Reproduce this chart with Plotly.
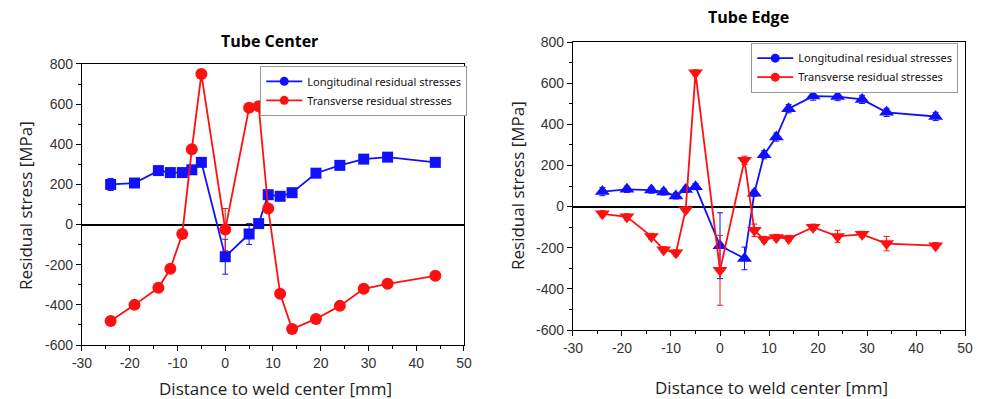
import plotly.graph_objects as go

# ---------------- data ----------------
x_pos = [-24, -19, -14, -11.5, -9, -7, -5, 0, 5, 7, 9, 11.5, 14, 19, 24, 29, 34, 44]

center_long = [200, 207, 269, 259, 259, 273, 310, -160, -47, 5, 149, 141, 159, 256, 295, 326, 336, 310]
center_long_err = [30, 15, 20, 20, 20, 15, 15, 87, 52, 15, 20, 12, 12, 12, 12, 12, 15, 12]
center_trans = [-480, -400, -315, -220, -47, 375, 750, -25, 582, 590, 80, -345, -520, -470, -405, -320, -295, -255]
center_trans_err = [10, 10, 10, 10, 10, 10, 10, 105, 10, 10, 10, 10, 10, 10, 10, 10, 10, 10]

edge_long = [73, 84, 80, 71, 52, 83, 97, -190, -252, 65, 252, 338, 476, 537, 535, 521, 458, 438]
edge_long_err = [20, 15, 15, 15, 15, 15, 15, 160, 55, 15, 20, 20, 20, 20, 20, 20, 20, 20]
edge_trans = [-35, -50, -145, -210, -225, -15, 650, -310, 225, -115, -160, -150, -155, -100, -145, -135, -180, -190]
edge_trans_err = [15, 15, 15, 15, 15, 15, 15, 170, 20, 30, 15, 15, 15, 15, 30, 15, 35, 15]

x_tickvals = [-30, -20, -10, 0, 10, 20, 30, 40, 50]
x_ticktext = ["-30", "-20", "-10", "0", "10", "20", "30", "40", "50"]
y_tickvals = [-600, -400, -200, 0, 200, 400, 600, 800]
y_ticktext = ["-600", "-400", "-200", "0", "200", "400", "600", "800"]

titles = ["Tube Center", "Tube Edge"]
series_names = ["Longitudinal residual stresses", "Transverse residual stresses"]
x_title = "Distance to weld center [mm]"
y_title = "Residual stress [MPa]"

BLUE = "#1010ff"
RED = "#ff1010"

fig = go.Figure()

def add_series(x, y, err, color, symbol, size, xa, ya):
    fig.add_trace(go.Scatter(
        x=x, y=y, mode="lines+markers", xaxis=xa, yaxis=ya, showlegend=False,
        line=dict(color=color, width=1.8),
        marker=dict(symbol=symbol, size=size, color=color),
        error_y=dict(type="data", array=err, visible=True, color=color, thickness=1, width=3),
    ))

add_series(x_pos, center_long, center_long_err, BLUE, "square", 11, "x", "y")
add_series(x_pos, center_trans, center_trans_err, RED, "circle", 12, "x", "y")
add_series(x_pos, edge_long, edge_long_err, BLUE, "triangle-up", 13, "x2", "y2")
add_series(x_pos, edge_trans, edge_trans_err, RED, "triangle-down", 13, "x2", "y2")

# legend entries (Origin-style circle symbols)
for lg, xa, ya in [("legend", "x", "y"), ("legend2", "x2", "y2")]:
    for name, color in zip(series_names, [BLUE, RED]):
        fig.add_trace(go.Scatter(
            x=[None], y=[None], mode="lines+markers", name=name, legend=lg,
            xaxis=xa, yaxis=ya,
            line=dict(color=color, width=1.8),
            marker=dict(symbol="circle", size=9, color=color),
        ))

tick_font = dict(family="Liberation Sans, Arial", size=14, color="#333")

def xaxis_cfg(domain, anchor):
    return dict(
        domain=domain, anchor=anchor, range=[-30, 50], automargin=False,
        tickmode="array", tickvals=x_tickvals, ticktext=x_ticktext,
        showline=True, linecolor="black", linewidth=1.3, mirror=True,
        ticks="outside", ticklen=5, tickcolor="black", tickwidth=1,
        minor=dict(dtick=5, tick0=-30, ticks="outside", ticklen=3, tickcolor="black"),
        showgrid=False, zeroline=False, tickfont=tick_font,
    )

def yaxis_cfg(domain, anchor):
    return dict(
        domain=domain, anchor=anchor, range=[-600, 800], automargin=False,
        tickmode="array", tickvals=y_tickvals, ticktext=y_ticktext,
        showline=True, linecolor="black", linewidth=1.3, mirror=True,
        ticks="outside", ticklen=5, tickcolor="black", tickwidth=1,
        minor=dict(dtick=100, tick0=-600, ticks="outside", ticklen=3, tickcolor="black"),
        showgrid=False, zeroline=True, zerolinecolor="black", zerolinewidth=1.5,
        tickfont=tick_font,
    )

legend_common = dict(
    bgcolor="white", bordercolor="#999", borderwidth=1,
    font=dict(family="Noto Sans", size=11, color="#111"),
    itemwidth=36, tracegroupgap=0, xanchor="left", yanchor="top",
)

def label(text, px, py, size, angle=0, color="#222"):
    return dict(text=text, x=px / 982, y=1 - py / 399, xref="paper", yref="paper",
                xanchor="center", yanchor="middle", textangle=angle,
                showarrow=False, font=dict(family="Open Sans", size=size, color=color))

fig.update_layout(
    width=982, height=399,
    margin=dict(l=0, r=0, t=0, b=0, autoexpand=False),
    paper_bgcolor="white", plot_bgcolor="white",
    xaxis=xaxis_cfg([0.0835, 0.4725], "y"),
    yaxis=yaxis_cfg([0.1353, 0.8396], "x"),
    xaxis2=xaxis_cfg([0.5835, 0.9827], "y2"),
    yaxis2=yaxis_cfg([0.1729, 0.8947], "x2"),
    legend=dict(x=0.265, y=0.835, **legend_common),
    legend2=dict(x=0.765, y=0.893, **legend_common),
    annotations=[
        label("<b>%s</b>" % titles[0], 269, 41, 16, color="black"),
        label("<b>%s</b>" % titles[1], 748, 17, 16, color="black"),
        label(x_title, 275, 388, 17),
        label(x_title, 771, 387, 17),
        label(y_title, 25, 206, 17, angle=-90),
        label(y_title, 517, 186, 17, angle=-90),
    ],
)

fig.write_html("out.html", config={"displayModeBar": False},
               post_script="document.body.style.margin='0';document.body.style.overflow='hidden';")
